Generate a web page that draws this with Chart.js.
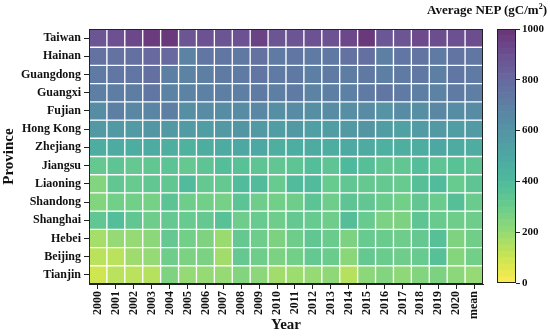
<!DOCTYPE html>
<html>
<head>
<meta charset="utf-8">
<script src="https://cdn.jsdelivr.net/npm/chart.js@4/dist/chart.umd.min.js"></script>
<style>
  body { margin: 0; background: #fff; }
  #wrap { position: relative; width: 550px; height: 336px; }
  #wrap canvas { position: absolute; left: 0; top: 0; }
  #cbTitle {
    position: absolute; right: 3px; top: 2px;
    font: bold 13px "Liberation Serif", serif; color: #111;
  }
  #cbTitle sup { font-size: 8px; }
</style>
</head>
<body>
<div id="wrap">
  <canvas id="heat" width="550" height="336"></canvas>
  <canvas id="bar" width="550" height="336"></canvas>
  <div id="cbTitle">Average NEP (gC/m<sup>2</sup>)</div>
</div>
<script>
// 年とプロヴィンス
const years = ['2000','2001','2002','2003','2004','2005','2006','2007','2008','2009','2010',
               '2011','2012','2013','2014','2015','2016','2017','2018','2019','2020','mean'];
const provinces = ['Taiwan','Hainan','Guangdong','Guangxi','Fujian','Hong Kong','Zhejiang',
                   'Jiangsu','Liaoning','Shandong','Shanghai','Hebei','Beijing','Tianjin'];

// NEP 値 (読み取り推定)
const taiwan    = [880,900,930,970,980,880,890,880,890,950,880,880,890,890,930,980,870,880,920,910,900,910];
const hainan    = [760,760,770,800,800,680,740,740,730,760,720,740,720,730,760,770,700,740,750,720,750,740];
const guangdong = [720,740,740,770,700,680,700,720,720,740,720,730,700,720,710,730,700,720,730,700,740,720];
const guangxi   = [700,710,710,740,680,680,690,700,700,720,700,720,680,700,690,720,740,720,700,680,720,705];
const fujian    = [630,700,660,670,700,620,640,630,640,660,620,640,620,640,620,640,600,640,620,660,630,640];
const hongkong  = [570,570,560,580,570,560,550,570,590,570,550,570,540,550,570,590,550,530,560,570,550,565];
const zhejiang  = [470,480,470,480,460,440,470,480,500,500,460,470,480,470,490,480,450,460,470,500,480,475];
const jiangsu   = [320,340,320,330,350,320,340,380,360,340,330,340,380,340,400,370,330,330,380,340,360,340];
const liaoning  = [240,330,310,330,330,390,320,320,390,390,310,390,390,310,330,320,320,310,370,390,310,340];
const shandong  = [240,280,280,270,350,290,280,270,350,290,280,290,350,290,340,330,300,280,330,300,370,300];
const shanghai  = [330,380,330,290,320,310,320,360,290,310,290,320,310,290,375,310,260,255,340,305,290,290];
const hebei     = [170,200,200,220,320,280,250,190,320,290,255,290,330,300,255,310,300,290,320,365,250,285];
const beijing   = [130,130,180,200,290,260,260,175,320,290,260,280,320,300,225,320,300,290,310,365,235,280];
const tianjin   = [ 90,130,130,140,250,200,200,200,240,220,175,185,200,215,140,220,240,215,240,255,220,200];
const nepRows = [taiwan, hainan, guangdong, guangxi, fujian, hongkong, zhejiang,
                 jiangsu, liaoning, shandong, shanghai, hebei, beijing, tianjin];

const barTicks = [0, 200, 400, 600, 800, 1000];
const nepMax = 1000;

// viridis_r + alpha 0.8
const VIRIDIS = [[68,1,84],[72,36,117],[65,68,135],[53,95,141],[42,120,142],[33,145,140],
                 [34,168,132],[68,191,112],[122,209,81],[189,223,38],[253,231,37]];
function nepColor(v) {
    const t = 1 - Math.max(0, Math.min(1, v / nepMax));
    const pos = t * (VIRIDIS.length - 1);
    const i = Math.min(Math.floor(pos), VIRIDIS.length - 2);
    const f = pos - i;
    const c = VIRIDIS[i].map((a, k) => a + (VIRIDIS[i + 1][k] - a) * f);
    return 'rgb(' + c.map(a => Math.round(a * 0.8 + 255 * 0.2)).join(',') + ')';
}

const serif = '"Liberation Serif", "Times New Roman", serif';
Chart.defaults.font.family = serif;
Chart.defaults.font.weight = 'bold';
Chart.defaults.color = '#111';

// 外枠
const framePlugin = {
    id: 'frame',
    afterDraw(chart) {
        const { ctx, chartArea: a } = chart;
        ctx.save();
        ctx.strokeStyle = '#222';
        ctx.lineWidth = 1;
        ctx.strokeRect(a.left + 0.5, a.top + 0.5, a.right - a.left - 1, a.bottom - a.top - 1);
        ctx.restore();
    }
};

// ヒートマップ
const heatSets = provinces.map((p, k) => {
    const row = provinces.length - 1 - k;
    return {
        label: p,
        data: nepRows[k].map(() => [row, row + 1]),
        backgroundColor: nepRows[k].map(nepColor),
        borderColor: '#fff',
        borderWidth: 1,
        borderSkipped: false,
        grouped: false,
        barPercentage: 1,
        categoryPercentage: 1
    };
});

new Chart(document.getElementById('heat'), {
    type: 'bar',
    data: { labels: years, datasets: heatSets },
    plugins: [framePlugin],
    options: {
        responsive: false,
        animation: false,
        layout: { padding: { left: 0, top: 29, right: 67, bottom: 0 } },
        plugins: { legend: { display: false }, tooltip: { enabled: false } },
        scales: {
            x: {
                grid: { display: true, drawOnChartArea: false, drawTicks: true, tickLength: 5, color: '#222', offset: false },
                border: { display: true, color: '#222' },
                ticks: { minRotation: 90, maxRotation: 90, padding: 2, font: { size: 12 } },
                title: { display: true, text: 'Year', font: { size: 15 }, padding: { top: 0, bottom: 2 } },
                afterFit(s) { s.height = 52; }
            },
            y: {
                min: 0, max: provinces.length,
                afterBuildTicks(s) { s.ticks = provinces.map((p, i) => ({ value: i + 0.5 })); },
                grid: { display: true, drawOnChartArea: false, drawTicks: true, tickLength: 5, color: '#222' },
                border: { display: true, color: '#222' },
                ticks: {
                    padding: 3, font: { size: 12 },
                    callback: (v, i) => provinces[provinces.length - 1 - i]
                },
                title: { display: true, text: 'Province', font: { size: 15 }, padding: { top: 0, bottom: 2 } },
                afterFit(s) { s.width = 89; }
            }
        }
    }
});

// カラーバー
const cbStep = 25;
const cbSets = [];
for (let lo = 0; lo < nepMax; lo += cbStep) {
    cbSets.push({
        data: [[lo, lo + cbStep]],
        backgroundColor: nepColor(lo + cbStep / 2),
        borderWidth: 0,
        grouped: false,
        barPercentage: 1,
        categoryPercentage: 1
    });
}

new Chart(document.getElementById('bar'), {
    type: 'bar',
    data: { labels: ['nep'], datasets: cbSets },
    plugins: [framePlugin],
    options: {
        responsive: false,
        animation: false,
        layout: { padding: { left: 497, top: 29, right: 0, bottom: 53 } },
        plugins: { legend: { display: false }, tooltip: { enabled: false } },
        scales: {
            x: { display: false },
            y: {
                position: 'right',
                min: 0, max: nepMax,
                afterBuildTicks(s) { s.ticks = barTicks.map(v => ({ value: v })); },
                grid: { display: true, drawOnChartArea: false, drawTicks: true, tickLength: 4, color: '#222' },
                border: { display: false },
                ticks: { padding: 2, font: { size: 11 }, callback: v => String(v) },
                afterFit(s) { s.width = 34; }
            }
        }
    }
});
</script>
</body>
</html>
